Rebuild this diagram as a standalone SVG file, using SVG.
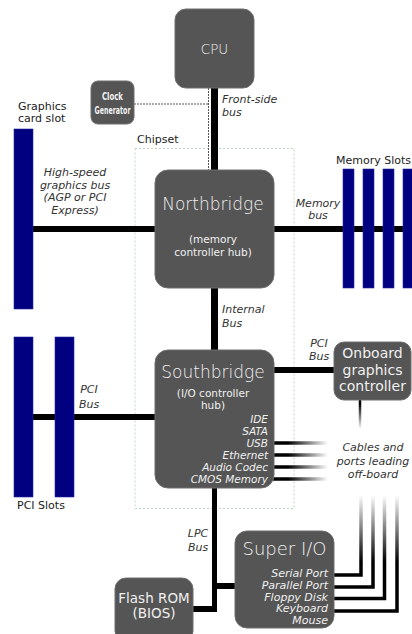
<svg xmlns="http://www.w3.org/2000/svg" width="412" height="634" viewBox="0 0 412 634">
<style>
.node{fill:#555555;stroke:#6e6e6e;stroke-width:1}
.ntxt{fill:#f0f0f0;font-family:"DejaVu Sans",sans-serif;text-anchor:middle}
.thin{font-weight:200}
.lbl{fill:#222;font-family:"DejaVu Sans",sans-serif;font-size:11px}
.it{fill:#333;font-family:"DejaVu Sans",sans-serif;font-size:11px;font-style:italic}
.nit{fill:#f0f0f0;font-family:"DejaVu Sans",sans-serif;font-style:italic;text-anchor:end}
.bus{stroke:#000;fill:none}
.slot{fill:#000080;stroke:#2a2a9a;stroke-width:0.6}
</style>
<defs>
<linearGradient id="gUp" gradientUnits="userSpaceOnUse" x1="0" y1="495" x2="0" y2="562">
<stop offset="0" stop-color="#000" stop-opacity="0"/>
<stop offset="1" stop-color="#000" stop-opacity="1"/>
</linearGradient>
<linearGradient id="gRight" gradientUnits="userSpaceOnUse" x1="288" y1="0" x2="328" y2="0">
<stop offset="0" stop-color="#000" stop-opacity="1"/>
<stop offset="1" stop-color="#000" stop-opacity="0"/>
</linearGradient>
<linearGradient id="gDown" gradientUnits="userSpaceOnUse" x1="0" y1="404" x2="0" y2="429">
<stop offset="0" stop-color="#000" stop-opacity="1"/>
<stop offset="1" stop-color="#000" stop-opacity="0"/>
</linearGradient>
</defs>

<rect id="chipset-box" x="135" y="148.5" width="159" height="360" fill="none" stroke="#bcd8bc" stroke-width="1" stroke-dasharray="2,2"/>

<g id="connectors">
<path d="M134 104 H208.5 M208.5 88 V170" fill="none" stroke="#555" stroke-width="1" stroke-dasharray="2,1"/>
<line class="bus" x1="214.5" y1="88" x2="214.5" y2="170" stroke-width="7"/>
<line class="bus" x1="33" y1="229" x2="155" y2="229" stroke-width="6"/>
<line class="bus" x1="273" y1="229" x2="412" y2="229" stroke-width="6"/>
<line class="bus" x1="214.5" y1="288" x2="214.5" y2="350" stroke-width="7"/>
<line class="bus" x1="33" y1="417" x2="155" y2="417" stroke-width="6"/>
<line class="bus" x1="273" y1="370" x2="334" y2="370" stroke-width="6"/>
<line class="bus" x1="214.5" y1="488" x2="214.5" y2="612" stroke-width="5"/>
<line class="bus" x1="193" y1="609" x2="217" y2="609" stroke-width="6"/>
<line class="bus" x1="214.5" y1="586" x2="235" y2="586" stroke-width="6"/>
<g fill="none" stroke="url(#gRight)" stroke-width="3.5">
<line x1="273" y1="443" x2="328" y2="443"/>
<line x1="273" y1="455" x2="328" y2="455"/>
<line x1="273" y1="467" x2="328" y2="467"/>
<line x1="273" y1="479" x2="328" y2="479"/>
</g>
<line x1="360" y1="400" x2="360" y2="429" stroke="url(#gDown)" stroke-width="2.5"/>
<g fill="none" stroke="url(#gUp)" stroke-width="3.5">
<path d="M334 575 H361 V495"/>
<path d="M334 587 H373 V495"/>
<path d="M334 598.5 H384.5 V495"/>
<path d="M334 611 H397 V495"/>
</g>
</g>

<g id="graphics-slot">
<rect class="slot" x="14" y="129" width="19" height="180"/>
<text class="lbl" x="18" y="110">Graphics</text>
<text class="lbl" x="18" y="122">card slot</text>
</g>
<g id="memory-slots">
<rect class="slot" x="343" y="169" width="11" height="119"/>
<rect class="slot" x="363" y="169" width="11" height="119"/>
<rect class="slot" x="383" y="169" width="11" height="119"/>
<rect class="slot" x="403" y="169" width="11" height="119"/>
<text class="lbl" x="336" y="164">Memory Slots</text>
</g>
<g id="pci-slots">
<rect class="slot" x="14" y="337" width="19" height="160"/>
<rect class="slot" x="55" y="337" width="19" height="160"/>
<text class="lbl" x="17" y="509">PCI Slots</text>
</g>

<g id="cpu">
<rect class="node" x="175" y="9" width="79" height="79" rx="11"/>
<text class="ntxt thin" x="214.5" y="54" font-size="13.5">CPU</text>
</g>
<g id="clock-generator">
<rect class="node" x="91" y="81" width="43" height="43" rx="7"/>
<text class="ntxt" x="112.5" y="100" font-size="10.5" font-weight="bold" font-family="DejaVu Sans Condensed, sans-serif" textLength="21" lengthAdjust="spacingAndGlyphs">Clock</text>
<text class="ntxt" x="112.5" y="114" font-size="10.5" font-weight="bold" font-family="DejaVu Sans Condensed, sans-serif" textLength="36" lengthAdjust="spacingAndGlyphs">Generator</text>
</g>
<g id="northbridge">
<rect class="node" x="155" y="170" width="119" height="118" rx="13"/>
<text class="ntxt thin" x="213" y="210" font-size="17">Northbridge</text>
<text class="ntxt" x="213" y="243" font-size="10.5">(memory</text>
<text class="ntxt" x="213" y="256" font-size="10.5">controller hub)</text>
</g>
<g id="southbridge">
<rect class="node" x="155" y="350" width="119" height="138" rx="13"/>
<text class="ntxt thin" x="213" y="378" font-size="17">Southbridge</text>
<text class="ntxt" x="213" y="397" font-size="10.5">(I/O controller</text>
<text class="ntxt" x="213" y="409" font-size="10.5">hub)</text>
<g class="nit" font-size="10.5">
<text x="268" y="423">IDE</text>
<text x="268" y="435">SATA</text>
<text x="268" y="447">USB</text>
<text x="268" y="459">Ethernet</text>
<text x="268" y="471">Audio Codec</text>
<text x="268" y="482.5">CMOS Memory</text>
</g>
</g>
<g id="onboard-graphics">
<rect class="node" x="334" y="342" width="77" height="58" rx="10"/>
<text class="ntxt" x="372.5" y="358" font-size="14">Onboard</text>
<text class="ntxt" x="372.5" y="375" font-size="14">graphics</text>
<text class="ntxt" x="372.5" y="391" font-size="14">controller</text>
</g>
<g id="super-io">
<rect class="node" x="235" y="531" width="99" height="97" rx="12"/>
<text class="ntxt thin" x="284.5" y="555" font-size="18">Super I/O</text>
<g class="nit" font-size="11">
<text x="328" y="577">Serial Port</text>
<text x="328" y="589">Parallel Port</text>
<text x="328" y="600.5">Floppy Disk</text>
<text x="328" y="612">Keyboard</text>
<text x="328" y="624">Mouse</text>
</g>
</g>
<g id="flash-rom">
<rect class="node" x="115" y="578" width="78" height="64" rx="11"/>
<text class="ntxt" x="154" y="603" font-size="13.5">Flash ROM</text>
<text class="ntxt" x="154" y="618" font-size="13.5">(BIOS)</text>
</g>

<g id="labels">
<text class="lbl" x="137" y="143">Chipset</text>
<text class="it" x="222" y="103">Front-side</text>
<text class="it" x="222" y="116">bus</text>
<g text-anchor="middle">
<text class="it" x="75" y="176">High-speed</text>
<text class="it" x="75" y="189">graphics bus</text>
<text class="it" x="75" y="201">(AGP or PCI</text>
<text class="it" x="75" y="214">Express)</text>
<text class="it" x="318" y="207">Memory</text>
<text class="it" x="318" y="219">bus</text>
<text class="it" x="373" y="451">Cables and</text>
<text class="it" x="373" y="465">ports leading</text>
<text class="it" x="373" y="478">off-board</text>
<text class="it" x="89" y="393">PCI</text>
<text class="it" x="89" y="408">Bus</text>
<text class="it" x="319" y="347">PCI</text>
<text class="it" x="319" y="360">Bus</text>
<text class="it" x="198" y="537">LPC</text>
<text class="it" x="198" y="551">Bus</text>
</g>
<text class="it" x="222" y="313">Internal</text>
<text class="it" x="222" y="327">Bus</text>
</g>
</svg>
